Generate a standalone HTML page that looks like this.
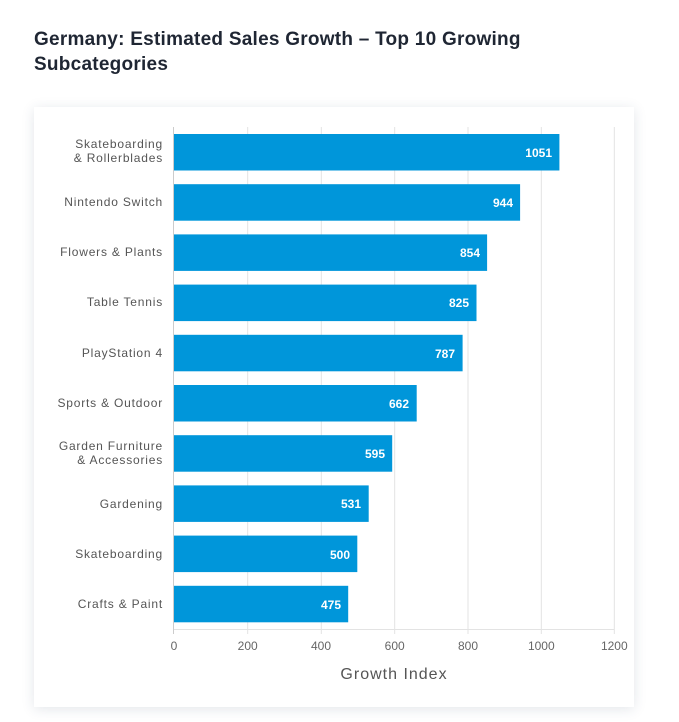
<!DOCTYPE html>
<html><head><meta charset="utf-8"><style>
body{margin:0;width:679px;height:722px;background:#fff;font-family:"Liberation Sans",sans-serif;overflow:hidden}
.t{position:absolute;left:34px;top:27px;font-size:19px;font-weight:bold;color:#1f2633;line-height:25px;letter-spacing:0.25px}
.card{position:absolute;left:34px;top:107px;width:600px;height:600px;background:#fff;box-shadow:0 2px 12px rgba(40,60,90,0.13)}
</style></head><body>
<div class="t">Germany: Estimated Sales Growth – Top 10 Growing<br>Subcategories</div>
<div class="card"></div>
<svg style="position:absolute;left:0;top:0" width="679" height="722" font-family="Liberation Sans, sans-serif">
<g stroke="#e3e3e3" stroke-width="1">
<line x1="247.7" y1="127" x2="247.7" y2="634"/><line x1="321.3" y1="127" x2="321.3" y2="634"/>
<line x1="394.7" y1="127" x2="394.7" y2="634"/><line x1="468" y1="127" x2="468" y2="634"/>
<line x1="541.3" y1="127" x2="541.3" y2="634"/><line x1="614.3" y1="127" x2="614.3" y2="634"/>
<line x1="174" y1="629.5" x2="614.3" y2="629.5"/>
</g>
<line x1="173.5" y1="127" x2="173.5" y2="634" stroke="#ccc"/>
<g fill="#0096da">
<rect x="174" y="134" width="385.4" height="36.5"/>
<rect x="174" y="184.2" width="346.1" height="36.5"/>
<rect x="174" y="234.4" width="313.1" height="36.5"/>
<rect x="174" y="284.6" width="302.5" height="36.5"/>
<rect x="174" y="334.8" width="288.6" height="36.5"/>
<rect x="174" y="385" width="242.7" height="36.5"/>
<rect x="174" y="435.2" width="218.2" height="36.5"/>
<rect x="174" y="485.4" width="194.7" height="36.5"/>
<rect x="174" y="535.6" width="183.3" height="36.5"/>
<rect x="174" y="585.8" width="174.2" height="36.5"/>
</g>
<g fill="#fff" font-size="12" font-weight="bold" text-anchor="end">
<text x="552" y="157">1051</text><text x="513" y="207">944</text><text x="480" y="257">854</text>
<text x="469" y="307">825</text><text x="455" y="358">787</text><text x="409" y="408">662</text>
<text x="385" y="458">595</text><text x="361" y="508">531</text><text x="350" y="559">500</text>
<text x="341" y="609">475</text>
</g>
<g fill="#555" font-size="12" text-anchor="end" letter-spacing="0.8">
<text x="163" y="148">Skateboarding</text><text x="163" y="162">&amp; Rollerblades</text>
<text x="163" y="206">Nintendo Switch</text><text x="163" y="256">Flowers &amp; Plants</text>
<text x="163" y="306">Table Tennis</text><text x="163" y="357">PlayStation 4</text>
<text x="163" y="407">Sports &amp; Outdoor</text>
<text x="163" y="450">Garden Furniture</text><text x="163" y="464">&amp; Accessories</text>
<text x="163" y="508">Gardening</text><text x="163" y="558">Skateboarding</text>
<text x="163" y="608">Crafts &amp; Paint</text>
</g>
<g fill="#666" font-size="12" text-anchor="middle">
<text x="174" y="650">0</text><text x="247.7" y="650">200</text><text x="321" y="650">400</text>
<text x="394.7" y="650">600</text><text x="468" y="650">800</text><text x="541.3" y="650">1000</text><text x="614.3" y="650">1200</text>
</g>
<text x="394" y="679" fill="#555" font-size="16" text-anchor="middle" letter-spacing="1">Growth Index</text>
</svg>
</body></html>
